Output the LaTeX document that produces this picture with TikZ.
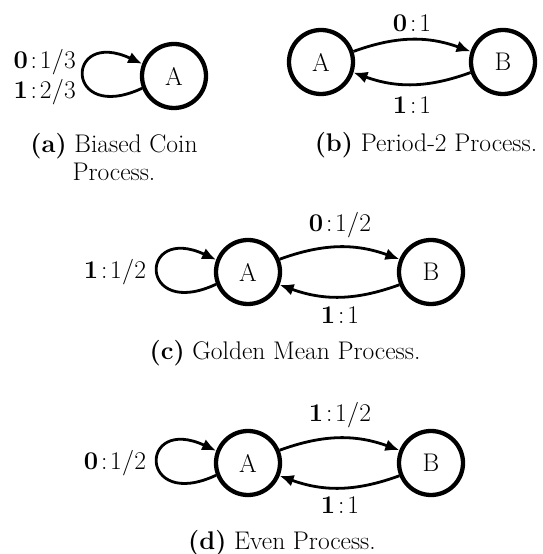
\RequirePackage{fix-cm}
\documentclass[tikz,border=0pt]{standalone}
\usetikzlibrary{arrows.meta}
\begin{document}
\begin{tikzpicture}[x=1pt,y=1pt,
  every node/.style={font=\fontsize{25.5}{27.5}\selectfont},
  state/.style={circle,draw,line width=4.3pt,minimum size=64pt,inner sep=0pt},
  arr/.style={line width=2.8pt,-{Latex[length=14pt,width=12pt]}},
  selfloop/.style={arr,out=205,in=155,distance=86pt},
  lbl/.style={inner sep=0pt},
  captxt/.style={inner sep=0pt,align=center}]
\useasboundingbox (0,0) rectangle (543,554);
% (a)
\node[state] (aA) at (174,478) {A};
\draw[selfloop] (aA.201) to (aA.159);
\node[lbl,align=right,anchor=east] (aL) at (76,477) {$\mathbf{0}\!:\!1/3$\\[2.5pt]$\mathbf{1}\!:\!2/3$};
\node[captxt] (aC) at (114,397) {\textbf{(a)} Biased Coin\\Process.\hspace{12pt}};
% (b)
\node[state] (bA) at (321,492) {A};
\node[state] (bB) at (503,492) {B};
\draw[arr] (bA.18) to[bend left=20] (bB.162);
\draw[arr] (bB.198) to[bend left=20] (bA.342);
\node[lbl] (bL1) at (412,531) {$\mathbf{0}\!:\!1$};
\node[lbl] (bL2) at (412,449) {$\mathbf{1}\!:\!1$};
\node[captxt] (bC) at (426,409) {\textbf{(b)} Period-2 Process.};
% (c)
\node[state] (cA) at (248,282) {A};
\node[state] (cB) at (431,282) {B};
\draw[selfloop] (cA.201) to (cA.159);
\draw[arr] (cA.22) to[bend left=20] (cB.158);
\draw[arr] (cB.202) to[bend left=20] (cA.338);
\node[lbl] (cL0) at (115,282) {$\mathbf{1}\!:\!1/2$};
\node[lbl] (cL1) at (340,329) {$\mathbf{0}\!:\!1/2$};
\node[lbl] (cL2) at (340,239) {$\mathbf{1}\!:\!1$};
\node[captxt] (cC) at (285,201) {\textbf{(c)} Golden Mean Process.};
% (d)
\node[state] (dA) at (248,91) {A};
\node[state] (dB) at (431,91) {B};
\draw[selfloop] (dA.201) to (dA.159);
\draw[arr] (dA.22) to[bend left=20] (dB.158);
\draw[arr] (dB.202) to[bend left=20] (dA.338);
\node[lbl] (dL0) at (115,91) {$\mathbf{0}\!:\!1/2$};
\node[lbl] (dL1) at (340,139) {$\mathbf{1}\!:\!1/2$};
\node[lbl] (dL2) at (340,49) {$\mathbf{1}\!:\!1$};
\node[captxt] (dC) at (282,11) {\textbf{(d)} Even Process.};
\end{tikzpicture}
\end{document}
